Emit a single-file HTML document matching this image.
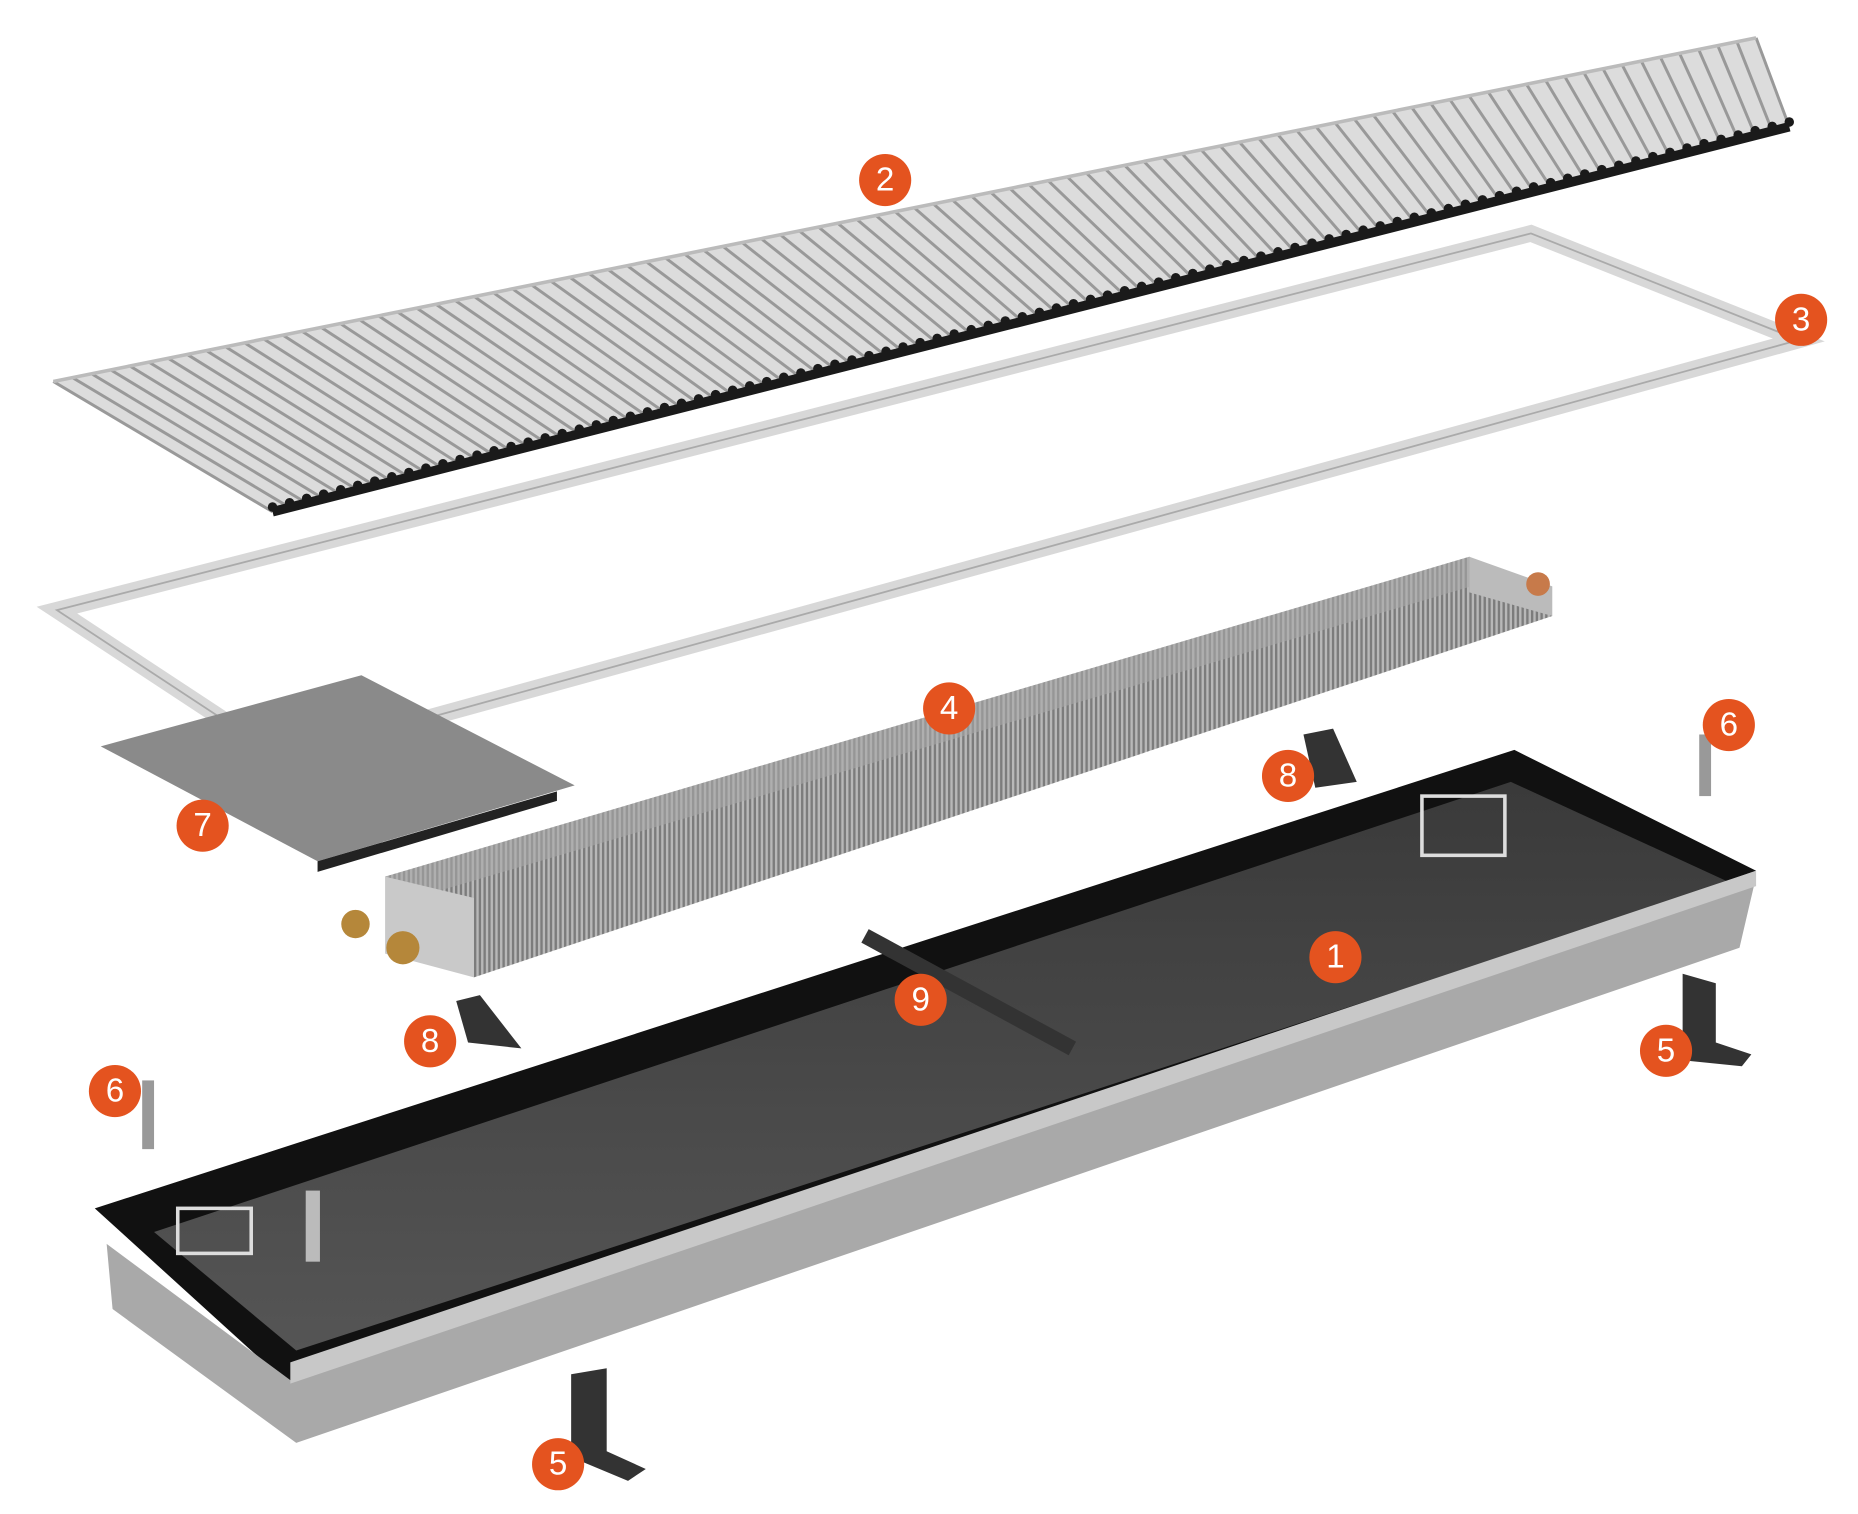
<!DOCTYPE html>
<html><head><meta charset="utf-8"><style>
html,body{margin:0;padding:0;background:#fff;width:1858px;height:1514px;overflow:hidden}
svg{display:block}
text{font-family:"Liberation Sans",sans-serif;font-size:28px;fill:#fff;text-anchor:middle;dominant-baseline:central}
</style></head><body>
<svg width="1858" height="1514" viewBox="0 0 1568 1278" preserveAspectRatio="none">
<defs>
<pattern id="fins" width="4" height="4" patternUnits="userSpaceOnUse"><rect width="4" height="4" fill="#b8b8b8"/><rect width="2" height="4" fill="#7c7c7c"/></pattern>
<linearGradient id="floor" x1="0" y1="0" x2="0" y2="1"><stop offset="0" stop-color="#3a3a3a"/><stop offset="1" stop-color="#555"/></linearGradient>
</defs>
<!-- grille -->
<polygon points="45,322 1482,32 1510,107 230,432" fill="#dcdcdc"/>
<g id="slats"></g>
<polyline points="230,432 1510,107" stroke="#1a1a1a" stroke-width="8" fill="none"/>
<polyline points="45,322 1482,32" stroke="#bbb" stroke-width="3" fill="none"/>
<!-- frame -->
<polygon points="48,515 1292,197 1518,287 238,640" fill="none" stroke="#d8d8d8" stroke-width="14" stroke-linejoin="miter"/>
<polygon points="48,515 1292,197 1518,287 238,640" fill="none" stroke="#aaa" stroke-width="1.5"/>
<!-- plate 7 -->
<polygon points="85,630 305,570 485,663 268,727" fill="#8a8a8a"/>
<polygon points="268,727 470,668 470,676 268,736" fill="#222"/>
<!-- heater 4 -->
<polygon points="325,740 1240,470 1310,520 400,825" fill="url(#fins)"/>
<polygon points="325,740 1240,470 1265,488 350,758" fill="#a8a8a8" opacity="0.6"/>
<polygon points="325,740 400,758 400,825 325,805" fill="#c9c9c9"/>
<polygon points="1240,470 1310,495 1310,520 1240,500" fill="#bbb"/>
<circle cx="300" cy="780" r="12" fill="#b5873a"/><circle cx="340" cy="800" r="14" fill="#b5873a"/>
<circle cx="1298" cy="493" r="10" fill="#c77a4a"/>
<!-- trough 1 -->
<polygon points="80,1020 1278,633 1482,735 245,1170" fill="#111"/>
<polygon points="130,1040 1275,660 1460,745 250,1140" fill="url(#floor)"/>
<polygon points="90,1050 245,1165 1482,740 1468,800 250,1218 95,1105" fill="#a9a9a9"/>
<polygon points="245,1150 1482,735 1482,748 245,1168" fill="#c8c8c8"/>
<rect x="150" y="1020" width="62" height="38" fill="none" stroke="#ddd" stroke-width="3"/>
<rect x="1200" y="672" width="70" height="50" fill="none" stroke="#ddd" stroke-width="3"/>
<!-- bar 9 -->
<line x1="730" y1="790" x2="905" y2="885" stroke="#333" stroke-width="13"/>
<!-- brackets 8 -->
<polygon points="385,845 405,840 440,885 395,880" fill="#333"/>
<polygon points="1100,620 1125,615 1145,660 1110,665" fill="#333"/>
<!-- brackets 5 -->
<polygon points="1420,822 1448,830 1448,880 1478,890 1470,900 1420,895" fill="#333"/>
<polygon points="482,1160 512,1155 512,1225 545,1240 530,1250 482,1230" fill="#333"/>
<!-- bolts 6 -->
<rect x="120" y="912" width="10" height="58" fill="#999"/>
<rect x="1434" y="620" width="10" height="52" fill="#999"/>
<rect x="258" y="1005" width="12" height="60" fill="#bbb"/>
<!-- badges -->
<g fill="#e4531f">
<circle cx="1127" cy="808" r="22"/><circle cx="747" cy="152" r="22"/><circle cx="1520" cy="270" r="22"/>
<circle cx="801" cy="598" r="22"/><circle cx="1406" cy="887" r="22"/><circle cx="471" cy="1236" r="22"/>
<circle cx="1459" cy="612" r="22"/><circle cx="97" cy="921" r="22"/><circle cx="171" cy="697" r="22"/>
<circle cx="1087" cy="655" r="22"/><circle cx="363" cy="879" r="22"/><circle cx="777" cy="844" r="22"/>
</g>
<text x="1127" y="808">1</text><text x="747" y="152">2</text><text x="1520" y="270">3</text>
<text x="801" y="598">4</text><text x="1406" y="887">5</text><text x="471" y="1236">5</text>
<text x="1459" y="612">6</text><text x="97" y="921">6</text><text x="171" y="697">7</text>
<text x="1087" y="655">8</text><text x="363" y="879">8</text><text x="777" y="844">9</text>
</svg>
<script>
(function(){var g=document.getElementById('slats'),ns='http://www.w3.org/2000/svg';
for(var i=0;i<=89;i++){var t=i/89;
var x1=45+(1482-45)*t,y1=322+(32-322)*t,x2=230+(1510-230)*t,y2=432+(107-432)*t;
var l=document.createElementNS(ns,'line');l.setAttribute('x1',x1);l.setAttribute('y1',y1);l.setAttribute('x2',x2);l.setAttribute('y2',y2);
l.setAttribute('stroke','#999');l.setAttribute('stroke-width','2.5');g.appendChild(l);
var c=document.createElementNS(ns,'circle');c.setAttribute('cx',x2);c.setAttribute('cy',y2-4);c.setAttribute('r','4');c.setAttribute('fill','#1a1a1a');g.appendChild(c);}})();
</script>
</body></html>
